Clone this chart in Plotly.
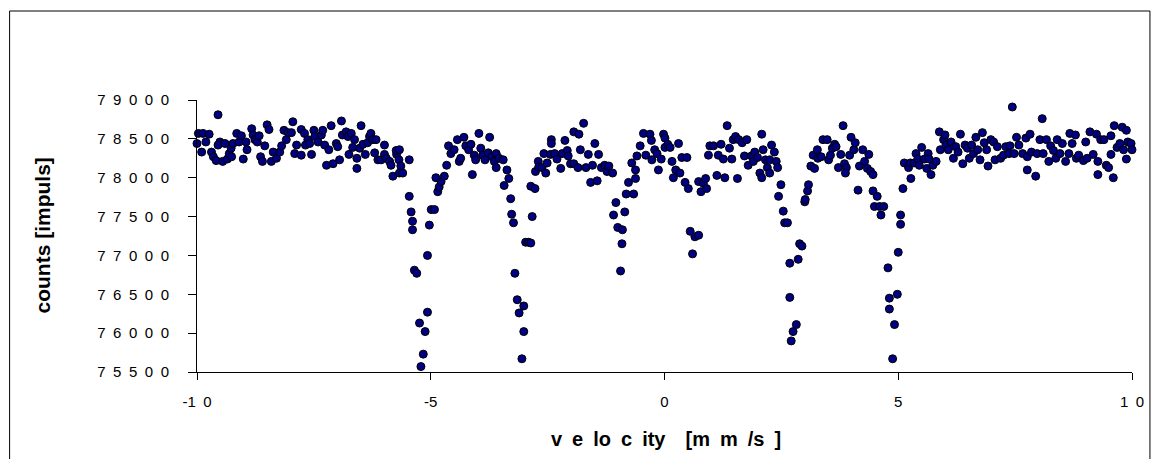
import plotly.graph_objects as go

# Mössbauer spectrum, split in velocity segments
vel_a = [-10.00,-9.97,-9.87,-9.74,-9.90,-9.81,-9.69,-9.65,-9.59,-9.55,-9.51,-9.55,-9.45,-9.40,-9.35,-9.31,-9.27,-9.26,-9.23,-9.15,-9.10,-9.05,-9.01,-8.95,-8.93,-8.83,-8.80,-8.76,-8.71,-8.67,-8.64,-8.60,-8.55,-8.50,-8.46,-8.41,-8.37,-8.30,-8.23,-8.19,-8.14,-8.09,-8.05]
cnt_a = [78440,78570,78570,78560,78330,78460,78330,78270,78220,78810,78460,78420,78210,78440,78240,78310,78380,78270,78440,78570,78460,78540,78240,78460,78360,78630,78550,78490,78460,78540,78270,78210,78410,78680,78620,78210,78330,78250,78330,78410,78610,78490,78580]

vel_b = [-7.95,-7.98,-7.87,-7.91,-7.77,-7.77,-7.70,-7.63,-7.68,-7.59,-7.55,-7.50,-7.48,-7.41,-7.34,-7.31,-7.27,-7.23,-7.18,-7.13,-7.09,-7.02,-6.99,-6.95,-6.91,-6.89,-6.81,-6.77,-6.70,-6.75,-6.67,-6.63,-6.58,-6.58,-6.52,-6.49,-6.45,-6.40,-6.35,-6.31,-6.28,-6.24,-6.17,-6.20,-6.13,-6.06,-5.99,-5.99,-5.95,-5.88,-5.85,-5.81,-5.73,-5.74,-5.67,-5.68,-5.64,-5.67,-5.60]
cnt_b = [78720,78580,78420,78310,78290,78620,78570,78490,78420,78440,78300,78610,78530,78460,78550,78610,78420,78160,78360,78670,78180,78440,78400,78230,78730,78550,78590,78530,78570,78300,78390,78490,78250,78120,78380,78670,78430,78300,78450,78530,78570,78490,78490,78320,78230,78230,78420,78300,78250,78210,78160,78020,78300,78350,78360,78230,78150,78060,78060]

vel_c = [-5.46,-5.46,-5.42,-5.39,-5.39,-5.35,-5.30,-5.24,-5.16,-5.21,-5.12,-5.07,-5.07,-5.03,-4.99,-4.92,-4.85,-4.82,-4.78,-4.89,-4.71,-4.66,-4.62,-4.57,-4.50,-4.43,-4.39,-4.36,-4.29,-4.25,-4.19,-4.14,-4.11,-4.07,-4.04,-3.97,-3.93,-3.89,-3.84,-3.77,-3.74,-3.69,-3.64,-3.60,-3.60,-3.54,-3.45,-3.43,-3.37,-3.33,-3.29,-3.27,-3.23,-3.20,-3.15,-3.11,-3.01,-3.01,-3.05,-2.97,-2.91]
cnt_c = [78230,77760,77560,77440,77330,76810,76770,76130,75730,75570,76020,76270,77000,77390,77590,77590,77820,77880,77950,78000,78020,78160,78410,78310,78360,78490,78210,78250,78520,78410,78360,78430,78040,78290,78230,78570,78380,78290,78230,78320,78520,78270,78210,78310,78130,78250,78230,77900,78100,77990,77730,77530,77420,76770,76430,76260,76350,76020,75670,77170,77170]

vel_d = [-2.86,-2.77,-2.83,-2.86,-2.76,-2.70,-2.69,-2.58,-2.62,-2.54,-2.51,-2.42,-2.42,-2.44,-2.35,-2.30,-2.22,-2.19,-2.13,-2.08,-2.06,-2.01,-1.94,-1.83,-1.94,-1.85,-1.80,-1.73,-1.68,-1.63,-1.58,-1.54,-1.49,-1.44,-1.41,-1.35,-1.28,-1.23,-1.19,-1.11,-1.04,-1.09,-1.00,-0.90,-0.85,-0.91,-0.94,-0.82,-0.77,-0.66,-0.62,-0.62,-0.70,-0.59,-0.52,-0.45,-0.40]
cnt_d = [77890,77860,77500,77160,78080,78210,78140,78310,78130,78060,78190,78490,78440,78300,78310,78240,78120,78310,78480,78350,78280,78180,78590,78560,78180,78130,78360,78700,78130,78300,77940,78160,78440,77960,78300,78130,78160,78080,78150,78060,77680,77520,77360,77330,77560,77150,76800,77790,77940,77790,77990,78100,78190,78280,78410,78570,78290]

vel_e = [-0.31,-0.28,-0.27,-0.21,-0.16,-0.13,-0.07,-0.02,0.01,0.01,0.07,0.12,0.16,0.19,0.24,0.30,0.33,0.37,0.44,0.48,0.51,0.55,0.65,0.73,0.60,0.73,0.78,0.83,0.88,0.90,0.94,0.97,1.05,1.12,1.15,1.21,1.26,1.29,1.34,1.39,1.44,1.47,1.52,1.56,1.59,1.66,1.71,1.76,1.79,1.86,1.90,1.93,1.99,2.04,2.08,2.08,2.11,2.16,2.20]
cnt_e = [78560,78480,78230,78360,78310,78100,78240,78560,78510,78390,78430,78390,78210,78000,78100,78440,78060,78260,77940,78260,77860,77310,77240,77260,77020,77950,77820,77930,77990,77860,78290,78410,78410,78030,78290,78430,78240,78000,78670,78380,78240,78490,78530,77990,78490,78450,78280,78490,78160,78280,78210,78330,78260,78060,78000,78560,78360,78230,78130]

vel_f = [2.29,2.35,2.25,2.39,2.25,2.42,2.49,2.44,2.54,2.57,2.63,2.68,2.68,2.71,2.75,2.82,2.86,2.89,2.94,3.00,3.01,3.06,3.08,3.13,3.21,3.18,3.27,3.28,3.35,3.39,3.48,3.51,3.55,3.59,3.64,3.67,3.72,3.77,3.82,3.85,3.89,3.87,3.96,3.99,4.05,4.08,4.14,4.17,4.24,4.28,4.34,4.37,4.41,4.46,4.46,4.55,4.49,4.60,4.69,4.63]
cnt_f = [78420,78330,78230,78210,78060,78130,77910,77760,77570,77420,77420,76900,76460,75900,76020,76110,76950,77150,77120,77690,77720,77830,77910,78150,78120,78290,78360,78250,78270,78490,78490,78230,78290,78380,78430,78400,78130,78300,78670,78180,78130,78060,78290,78520,78360,78450,77840,78150,78360,78210,78120,78300,78080,78040,77830,77760,77630,77630,77630,77520]

vel_g = [4.78,4.81,4.81,4.92,4.88,4.98,5.00,5.05,5.05,5.10,5.27,5.13,5.22,5.26,5.34,5.38,5.42,5.45,5.50,5.56,5.61,5.64,5.66,5.70,5.74,5.81,5.88,5.90,5.97,6.00,6.02,6.07,6.13,6.18,6.23,6.28,6.33,6.38,6.43,6.48,6.52,6.57,6.61,6.66,6.70,6.75,6.80,6.84,6.89,6.92,6.98,7.04,7.07,7.12,7.19,7.25,7.30]
cnt_g = [76840,76450,76310,76110,75670,76500,77040,77520,77400,77860,77990,78190,78130,78190,78190,78310,78240,78160,78390,78240,78120,78310,78240,78040,78160,78210,78590,78360,78490,78550,78420,78360,78460,78250,78400,78330,78560,78180,78420,78380,78250,78420,78310,78520,78360,78230,78580,78450,78360,78150,78490,78460,78230,78400,78250,78290,78400]

vel_h = [7.44,7.39,7.37,7.48,7.53,7.58,7.66,7.73,7.76,7.76,7.82,7.85,7.94,7.97,8.03,8.08,8.10,8.17,8.22,8.26,8.32,8.37,8.40,8.46,8.51,8.58,8.65,8.67,8.72,8.79,8.81,8.86,8.96,9.01,9.04,9.10,9.17,9.24,9.27,9.27,9.33,9.40,9.45,9.50,9.55,9.55,9.60,9.62,9.68,9.74,9.79,9.82,9.88,9.88,9.91,9.98,10.00]
cnt_h = [78910,78410,78310,78310,78520,78420,78310,78510,78270,78100,78560,78330,78020,78310,78490,78760,78310,78490,78210,78410,78350,78250,78490,78310,78440,78210,78310,78570,78440,78550,78250,78290,78220,78460,78250,78590,78300,78560,78210,78040,78490,78490,78160,78130,78540,78300,78000,78670,78390,78440,78650,78360,78610,78240,78460,78440,78360]

x_ticks = [-10, -5, 0, 5, 10]
x_labels = ["-1\u20020", "-5", "0", "5", "1\u20020"]
y_ticks = [75500, 76000, 76500, 77000, 77500, 78000, 78500, 79000]
y_labels = ["\u2002".join(str(v)) for v in y_ticks]

x_title = "v\u2002e\u2002lo\u2002c\u2002ity\u2002\u2002[m\u2002m\u2002/s\u2002]"
y_title = "counts [impuls]"

segments = [(vel_a, cnt_a), (vel_b, cnt_b), (vel_c, cnt_c), (vel_d, cnt_d),
            (vel_e, cnt_e), (vel_f, cnt_f), (vel_g, cnt_g), (vel_h, cnt_h)]
velocity, counts = [], []
for v, c in segments:
    n = min(len(v), len(c))
    velocity += v[:n]
    counts += c[:n]

FONT = "Liberation Sans, Arial, sans-serif"

fig = go.Figure(go.Scatter(
    x=velocity, y=counts, mode="markers", cliponaxis=False,
    marker=dict(symbol="circle", size=8, color="#000080",
                line=dict(color="black", width=1)),
    showlegend=False, hoverinfo="skip"))

L, R, T, B = 197, 21, 100, 87
W, H = 1156, 459
pw, ph = W - L - R, H - T - B

def px_x(px):
    return (px - L) / pw

def px_y(py):
    return (H - B - py) / ph

fig.update_layout(
    width=W, height=H,
    margin=dict(l=L, r=R, t=T, b=B, pad=0),
    paper_bgcolor="white", plot_bgcolor="white",
    font=dict(family=FONT, size=15, color="black"),
    xaxis=dict(range=[-10, 10], tickmode="array", tickvals=x_ticks, ticktext=x_labels,
               ticks="outside", ticklen=7, tickcolor="black", tickwidth=1,
               showline=True, linecolor="black", linewidth=1,
               showgrid=False, zeroline=False, ticklabelstandoff=9,
               tickfont=dict(size=15)),
    yaxis=dict(range=[75500, 79000], tickmode="array", tickvals=y_ticks, ticktext=y_labels,
               ticks="outside", ticklen=8, tickcolor="black", tickwidth=1,
               showline=True, linecolor="black", linewidth=1,
               showgrid=False, zeroline=False, ticklabelstandoff=16,
               tickfont=dict(size=15)),
    annotations=[
        dict(text="<b>" + x_title + "</b>", xref="paper", yref="paper",
             x=px_x(668), y=px_y(439), xanchor="center", yanchor="middle",
             showarrow=False, font=dict(size=20, family=FONT)),
        dict(text="<b>" + y_title + "</b>", xref="paper", yref="paper",
             x=px_x(42), y=px_y(235), xanchor="center", yanchor="middle",
             textangle=-90, showarrow=False, font=dict(size=21, family=FONT)),
    ],
    shapes=[dict(type="rect", xref="paper", yref="paper",
                 x0=px_x(9), x1=px_x(1153), y0=px_y(480), y1=px_y(11),
                 line=dict(color="black", width=1), fillcolor="rgba(0,0,0,0)",
                 layer="below")],
)

fig.write_html("out.html", config={"displayModeBar": False},
               post_script="document.body.style.margin='0';")
